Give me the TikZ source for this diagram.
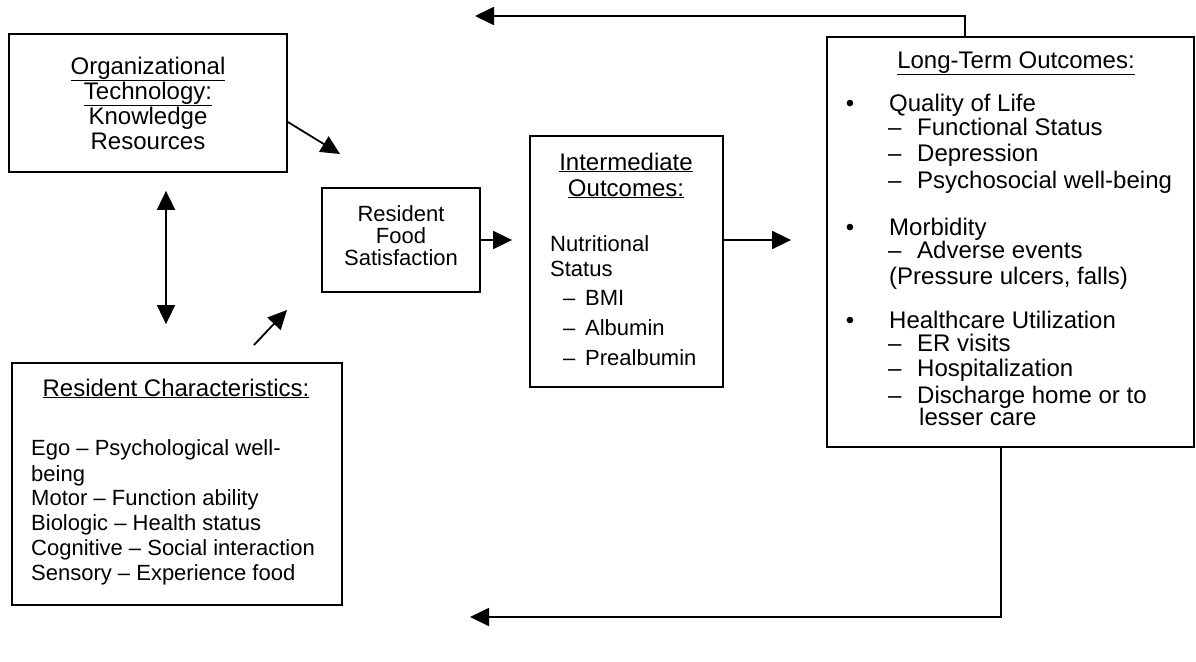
\documentclass[tikz,border=0pt]{standalone}
\usepackage{fontspec}
\setmainfont{Liberation Sans}
\usetikzlibrary{arrows.meta,positioning}

\tikzset{
  box/.style={draw, line width=1.8pt, inner sep=0pt},
  txt/.style={inner sep=0pt, font=\fontsize{22}{25}\selectfont},
  big/.style={inner sep=0pt, font=\fontsize{24}{25}\selectfont},
  arr/.style={line width=1.8pt, -{Triangle[length=19pt,width=18pt]}},
  dbl/.style={line width=1.8pt, {Triangle[length=19pt,width=18pt]}-{Triangle[length=19pt,width=18pt]}},
}
\newcommand{\dsh}[1]{\makebox[#1][l]{\textendash}}

\begin{document}
\begin{tikzpicture}[x=1pt,y=-1pt]
\useasboundingbox (0,0) rectangle (1196,661);

% boxes
\node[box, big, align=center, minimum width=278pt, minimum height=138pt] (org) at (148,103)
  {\underline{Organizational}\\\underline{Technology:}\\Knowledge\\Resources};
\node[box, minimum width=158pt, minimum height=104pt] (rfs) at (401,240) {};
\node[txt, align=center, font=\fontsize{22}{22}\selectfont] (rfstext) at (401,236)
  {Resident\\Food\\Satisfaction};
\node[box, minimum width=330pt, minimum height=242pt] (rc) at (177,484) {};
\node[box, minimum width=193pt, minimum height=251pt] (int) at (626.5,261.5) {};
\node[box, minimum width=367pt, minimum height=410pt] (lt) at (1010.5,242) {};

% resident characteristics
\node[big, anchor=base] (rctitle) at (176,396) {\underline{Resident Characteristics:}};
\node[txt, anchor=base west] at (31,455) {Ego \textendash\ Psychological well-};
\node[txt, anchor=base west] at (31,481) {being};
\node[txt, anchor=base west] at (31,505) {Motor \textendash\ Function ability};
\node[txt, anchor=base west] at (31,530) {Biologic \textendash\ Health status};
\node[txt, anchor=base west] at (31,555) {Cognitive \textendash\ Social interaction};
\node[txt, anchor=base west] at (31,580) {Sensory \textendash\ Experience food};

% intermediate outcomes
\node[big, anchor=base] (inttitle) at (626,170) {\underline{Intermediate}};
\node[big, anchor=base] at (626,196) {\underline{Outcomes:}};
\node[txt, anchor=base west] at (550,251) {Nutritional};
\node[txt, anchor=base west] at (550,276) {Status};
\node[txt, anchor=base west] at (563,305) {\dsh{22pt}BMI};
\node[txt, anchor=base west] at (563,335) {\dsh{22pt}Albumin};
\node[txt, anchor=base west] at (563,365) {\dsh{22pt}Prealbumin};

% long-term outcomes
\node[big, anchor=base] (lttitle) at (1016,68) {\underline{Long-Term Outcomes:}};
\foreach \y/\t in {111/Quality of Life, 235/Morbidity, 328/Healthcare Utilization} {
  \node[big, anchor=base] at (850,\y) {\textbullet};
  \node[big, anchor=base west] at (889,\y) {\t};
}
\foreach \y/\t in {135/Functional Status, 161/Depression, 188/Psychosocial well-being,
                   258/Adverse events, 351/ER visits, 376/Hospitalization,
                   403/Discharge home or to} {
  \node[big, anchor=base west] at (888,\y) {\dsh{29pt}\t};
}
\node[big, anchor=base west] at (889,284) {(Pressure ulcers, falls)};
\node[big, anchor=base west] at (919,425) {lesser care};

% connectors
\coordinate (orgtip) at (340,154);
\coordinate (rctail) at (254,345);
\coordinate (rctip) at (287,310);
\coordinate (fbtop) at (475,16);
\coordinate (fbbot) at (470,617);

\draw[arr] ([yshift=-19pt]org.east) -- (orgtip);
\draw[arr] (rctail) -- (rctip);
\draw[dbl, shorten <=18pt, shorten >=38pt] ([xshift=18pt]org.south) -- ([xshift=-11pt]rc.north);
\draw[arr, shorten >=17pt] (rfs.east) -- (rfs.east -| int.west);
\draw[arr, shorten >=35pt] (int.east |- rfs.east) -- (rfs.east -| lt.west);
\draw[arr] ([xshift=-45.5pt]lt.north) |- (fbtop);
\draw[arr] ([xshift=-9.5pt]lt.south) |- (fbbot);
\end{tikzpicture}
\end{document}
